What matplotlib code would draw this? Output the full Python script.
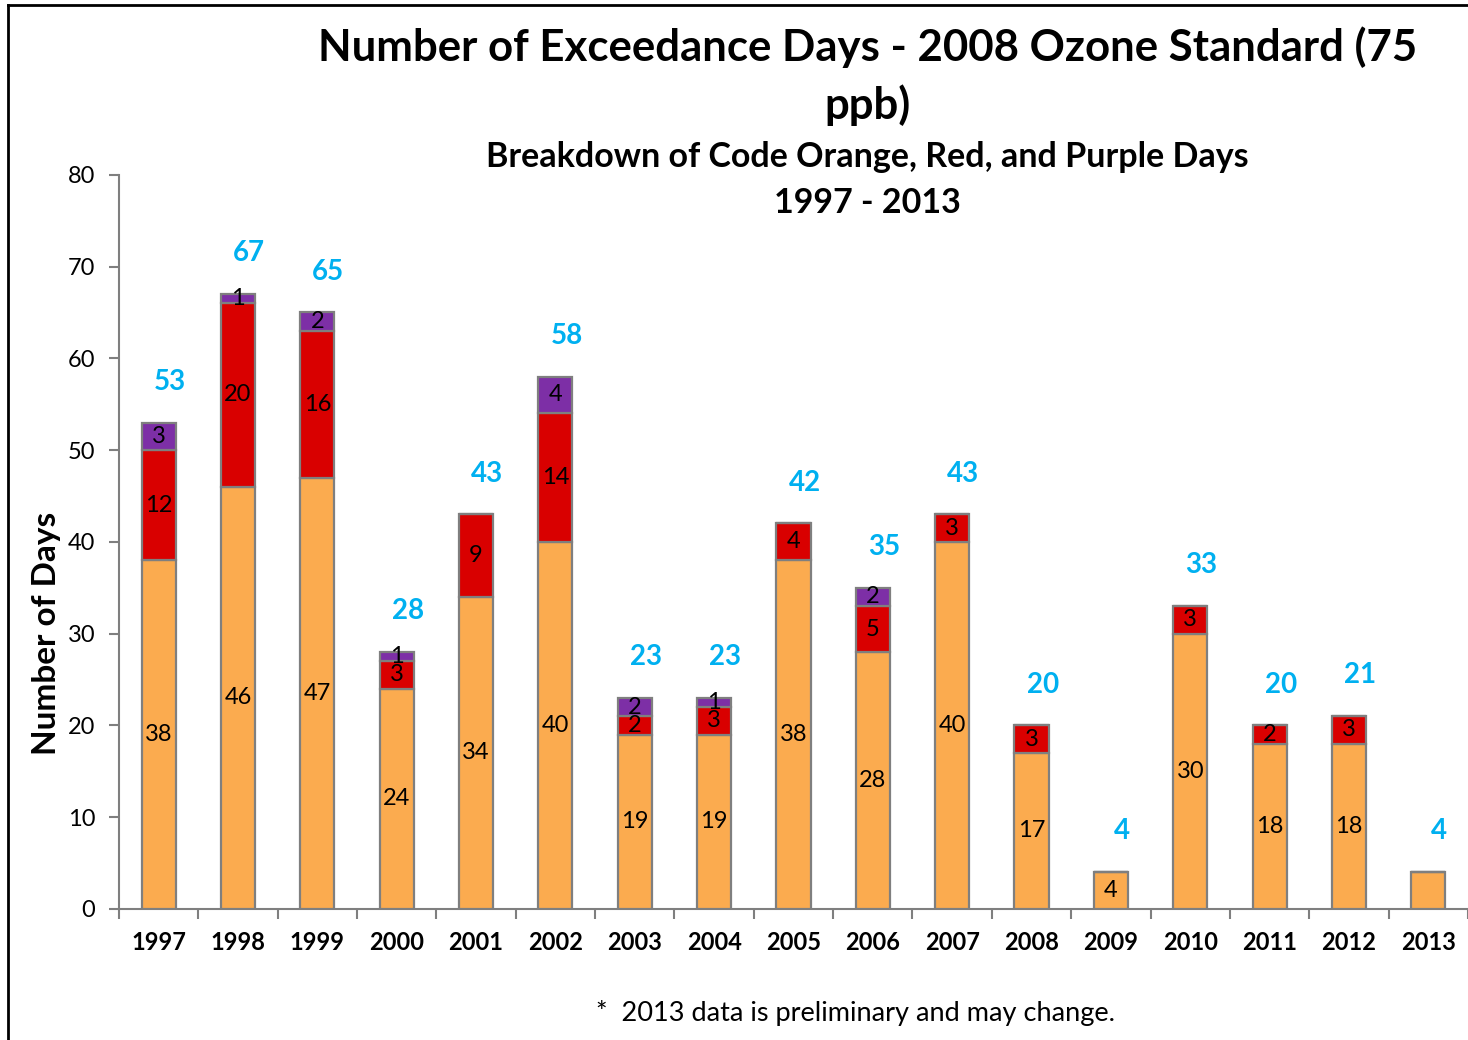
import matplotlib.pyplot as plt
import numpy as np

years = ['1997', '1998', '1999', '2000', '2001', '2002', '2003', '2004', '2005',
         '2006', '2007', '2008', '2009', '2010', '2011', '2012', '2013']
orange_days = [38, 46, 47, 24, 34, 40, 19, 19, 38, 28, 40, 17, 4, 30, 18, 18, 4]
red_days = [12, 20, 16, 3, 9, 14, 2, 3, 4, 5, 3, 3, 0, 3, 2, 3, 0]
purple_days = [3, 1, 2, 1, 0, 4, 2, 1, 0, 2, 0, 0, 0, 0, 0, 0, 0]
# 2013 is preliminary, no value shown inside its bar
show_inside = [True] * 16 + [False]

plt.rcParams['font.family'] = ['Lato', 'DejaVu Sans']

fig = plt.figure(figsize=(14.68, 10.4), dpi=100)
ax = fig.add_axes([0.081, 0.126, 0.919, 0.706])

x = np.arange(len(years))
orange = np.array(orange_days)
red = np.array(red_days)
purple = np.array(purple_days)
total = orange + red + purple

edge = '#7f7f7f'
w = 0.43
ax.bar(x, orange, w, color='#fbab4f', edgecolor=edge, linewidth=1.6, zorder=3)
ax.bar(x, red, w, bottom=orange, color='#d90000', edgecolor=edge, linewidth=1.6, zorder=3)
ax.bar(x, purple, w, bottom=orange + red, color='#7d2fa6', edgecolor=edge, linewidth=1.6, zorder=3)

for i in range(len(years)):
    if show_inside[i]:
        ax.text(x[i], orange[i] / 2, str(orange[i]), ha='center', va='center', fontsize=17, zorder=4)
    if red[i] > 0:
        ax.text(x[i], orange[i] + red[i] / 2, str(red[i]), ha='center', va='center', fontsize=17, zorder=4)
    if purple[i] > 0:
        ax.text(x[i], orange[i] + red[i] + purple[i] / 2, str(purple[i]), ha='center', va='center',
                fontsize=17, zorder=4)
    ax.annotate(str(total[i]), (x[i], total[i]), xytext=(8, 20), textcoords='offset points',
                ha='center', va='bottom', fontsize=20, fontweight='bold', color='#00b0f0')

ax.set_xlim(-0.5, len(years) - 0.5)
ax.set_ylim(0, 80)
ax.set_yticks(range(0, 81, 10))
ax.set_xticks(x)
ax.set_xticklabels(years, fontsize=17, fontweight='bold')
ax.set_xticks(np.arange(-0.5, len(years), 1), minor=True)
ax.tick_params(axis='x', which='major', length=0, pad=16)
ax.tick_params(axis='x', which='minor', length=7, color=edge, width=1.5)
ax.tick_params(axis='y', length=7, color=edge, width=1.5, labelsize=17, pad=10)
for side in ['top', 'right']:
    ax.spines[side].set_visible(False)
for side in ['left', 'bottom']:
    ax.spines[side].set_color(edge)
    ax.spines[side].set_linewidth(1.5)

ax.set_ylabel('Number of Days', fontsize=24, fontweight='bold')
ax.yaxis.set_label_coords(-0.043, 0.376)

fig.text(0.591, 0.955, 'Number of Exceedance Days - 2008 Ozone Standard (75', ha='center', va='center',
         fontsize=31.5, fontweight='bold')
fig.text(0.591, 0.899, 'ppb)', ha='center', va='center', fontsize=31.5, fontweight='bold')
fig.text(0.591, 0.849, 'Breakdown of Code Orange, Red, and Purple Days', ha='center', va='center',
         fontsize=24.5, fontweight='bold')
fig.text(0.591, 0.805, '1997 - 2013', ha='center', va='center', fontsize=24.5, fontweight='bold')
fig.text(0.583, 0.026, '*  2013 data is preliminary and may change.', ha='center', va='center', fontsize=19.5)

# frame around the chart area
fig.add_artist(plt.Line2D([0.0055, 0.0055], [0, 0.995], color='black', lw=2, transform=fig.transFigure))
fig.add_artist(plt.Line2D([0.0055, 1.0], [0.995, 0.995], color='black', lw=2, transform=fig.transFigure))

plt.savefig('out.png')
